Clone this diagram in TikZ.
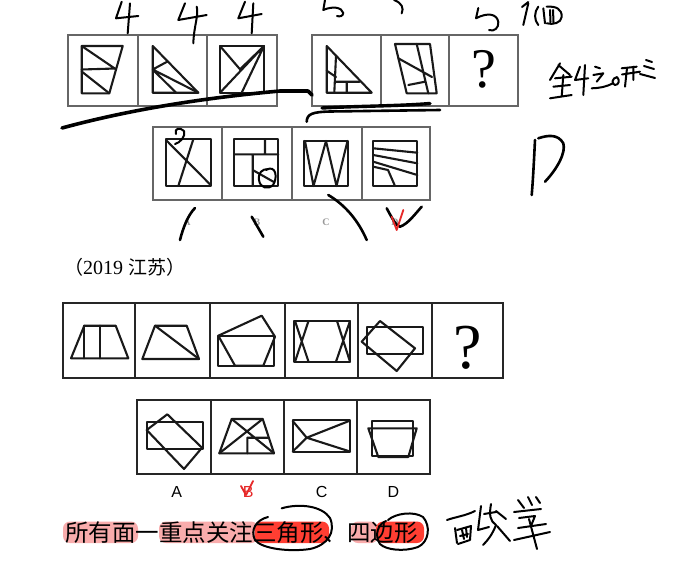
\documentclass[tikz,border=0pt]{standalone}
\usepackage{fontspec}
\newfontfamily\cjk{Noto Sans CJK SC}
\newfontfamily\arialf{Liberation Sans}
\newfontfamily\timesf{Liberation Serif}
\definecolor{pinkhl}{RGB}{249,172,172}
\definecolor{redhl}{RGB}{255,62,50}
\definecolor{checkred}{RGB}{230,40,40}
\begin{document}
\begin{tikzpicture}[x=1pt,y=-1pt,
  fig/.style={line width=2.1pt, line join=round, line cap=round, draw=black!90},
  frame/.style={line width=1.8pt, draw=black!60},
  frameb/.style={line width=2.2pt, draw=black!85},
  hw/.style={line width=2.6pt, line cap=round, line join=round, draw=black},
  hwt/.style={line width=2pt, line cap=round, line join=round, draw=black},
  hwr/.style={line width=1.8pt, line cap=round, line join=round, draw=checkred},
]
\useasboundingbox (0,0) rectangle (692,562);
\fill[white] (0,0) rectangle (692,562);

% ---------------- Question 1 : frames ----------------
\draw[frame] (68,35) rectangle (277,106);
\draw[frame] (138,35) -- (138,106) (207,35) -- (207,106);
\draw[frame] (312,35) rectangle (518,106);
\draw[frame] (381,35) -- (381,106) (449,35) -- (449,106);
% cell 1
\draw[fig] (81.7,46) -- (122.7,46) -- (109.3,93.3) -- (81.7,93.3) -- cycle;
\draw[fig] (81.7,46) -- (115.5,69) (81.7,69.5) -- (115.5,68.5) (81.7,71.5) -- (109.3,93.3);
% cell 2
\draw[fig] (152.7,46) -- (198.3,92.7) -- (152.7,92.7) -- cycle;
\draw[fig] (152.7,69.5) -- (167.5,61.5) (152.7,69.5) -- (198.3,92.7) (152.7,69.5) -- (176,92.7);
% cell 3
\draw[fig] (220,46) rectangle (264,92.7);
\draw[fig] (220,46) -- (240,69.3) -- (264,46) (220,92.7) -- (264,46) (241.7,92.7) -- (264,46);
% cell 4
\draw[fig] (326.7,46) -- (371.7,92.7) -- (326.7,92.7) -- cycle;
\draw[fig] (336,55.7) -- (334.3,92.7) (326.7,70.7) -- (336,77) (336,81.7) -- (359.5,81.7) (346.7,81.7) -- (346.7,92.7);
% cell 5
\draw[fig] (395,44) -- (430,44) -- (436.7,93.3) -- (406.7,93.3) -- cycle;
\draw[fig] (416.7,44) -- (428.3,93.3) (398.3,58.3) -- (432,77) (408.3,85) -- (425,81.7);
% cell 6
\node[font=\timesf\fontsize{56}{56}\selectfont] (q1) at (483.5,69) {?};

% ---------------- Question 1 : options ----------------
\draw[frame] (152.7,126.7) rectangle (430,200);
\draw[frame] (221.7,126.7) -- (221.7,200) (291.7,126.7) -- (291.7,200) (361.7,126.7) -- (361.7,200);
% A
\draw[fig] (166,139.3) rectangle (210.7,186);
\draw[fig] (166.5,140.5) -- (210.7,185) (193.3,139.3) -- (178.3,186);
% B
\draw[fig] (234.3,139.3) rectangle (278.3,186);
\draw[fig] (234.3,154.3) -- (278.3,154.3) (265,139.3) -- (265,154.3) (252.7,154.3) -- (252.7,186) (252.7,170) -- (273.3,181.7);
% C
\draw[fig] (304,140.7) rectangle (348.3,186);
\draw[fig] (305,141) -- (313.5,186) -- (326,141) -- (336.5,186) -- (347.5,141);
% D
\draw[fig] (373.3,140.7) rectangle (417.3,186);
\draw[fig] (373.3,148.3) -- (417.3,152.7) (373.3,155) -- (417.3,163.3) (373.3,161.7) -- (417.3,175) (373.3,166.7) -- (388,170) -- (395,186);
% labels
\foreach \l/\x in {A/187,B/257,C/326,D/395}
  \node[font=\timesf\bfseries\fontsize{10}{10}\selectfont, text=black!40] (o1\l) at (\x,222) {\l};

% ---------------- Question 1 : handwriting ----------------
% numbers above
\draw[hwt] (121.7,1.7) -- (116,18.3) -- (138.3,16) (130,3.3) -- (127.7,33.3);
\draw[hwt] (185,3.3) -- (178.3,20) -- (206.7,15) (196.7,6.7) .. controls (199,15) and (194,25) .. (193.3,43.3);
\draw[hwt] (245,1.7) -- (238.3,18.3) -- (261.7,14) (253.3,3.3) -- (251.7,33.3);
\draw[hwt] (325,0) -- (323.3,10) .. controls (332,6) and (342,7) .. (343.3,13) .. controls (343,16) and (340,17) .. (337,16);
\draw[hwt] (394,0) .. controls (402,3) and (404,8) .. (401.7,13.3);
% "5 个 面"
\draw[hwt] (478.3,8) -- (476,18.3) .. controls (488,12) and (497,14) .. (498.3,22) .. controls (499,28) and (494,32) .. (489,30);
\draw[hwt] (522,7) -- (528.3,2) (528.3,3.3) -- (523.3,25);
\draw[hwt] (538.3,6.7) .. controls (534,12) and (534,20) .. (538.3,25);
\draw[hwt] (543.3,8.3) -- (545,23.3) (546.7,6.7) .. controls (556,6) and (562,9) .. (561.7,17) .. controls (561,23) and (553,25) .. (546.7,23.3) (550,10) -- (550.5,22) (553,10) -- (553.5,22);
% "全4边形"
\draw[hwt] (560,63.3) -- (550,80) (558.3,65) -- (570,75) (555,78.3) -- (571.7,76.7) (563.3,75) -- (561.7,96.7) (553.3,86.7) -- (570,85) (550,98.3) -- (571.7,95);
\draw[hwt] (580,66.7) -- (575,80) -- (588.3,78.3) (585,65) -- (583.3,95);
\draw[hwt] (595,66.7) -- (600,68.3) (593.3,75) -- (603.3,73.3) -- (596.7,81.7) (591.7,88.3) .. controls (600,88) and (606,87) .. (613.3,83);
\draw[hwt] (617,77) .. controls (612,78) and (611,84) .. (615,85) .. controls (619,85) and (620,80) .. (617,77);
\draw[hwt] (621.7,68.3) -- (636.7,66.7) (622,74.5) -- (640,71.7) (627,68) -- (625,86.7) (633.3,66.7) -- (633.3,80);
\draw[hwt] (646,60) -- (652,62) (644,66) -- (654,69) (640,74) -- (655,78);
% handwritten D
\draw[hw] (535,140) .. controls (534,160) and (533,180) .. (531.7,195);
\draw[hw] (538.3,138.3) .. controls (548,135) and (558,134) .. (563.3,143.3) .. controls (566,152) and (558,168) .. (545,181.7);
% long curve under first group
\draw[line width=3.6pt, line cap=round, line join=round] (62,128) .. controls (110,115) and (180,100) .. (280,91) -- (308,91) -- (312,95);
\draw[line width=3.4pt, line cap=round] (322,108) .. controls (360,106) and (400,106) .. (430,103.5);
\draw[hw] (306.7,121.7) .. controls (307,114) and (312,112) .. (330,111.5) -- (440,110);
% loops on options
\draw[hwt] (176,134) .. controls (174,128) and (180,127) .. (184,131) .. controls (186,136) and (180,143) .. (175,144);
\draw[hwt] (266,170) .. controls (276,164) and (278,178) .. (273,185) .. controls (268,190) and (260,188) .. (259,180) .. controls (258,173) and (262,169) .. (268,169);
% strokes under options
\draw[hw] (195,208) .. controls (188,215) and (183,228) .. (180,240);
\draw[hw] (251.7,216.7) -- (263.3,236.7);
\draw[hw] (328.3,195) .. controls (345,205) and (358,220) .. (366.7,240);
\draw[hw] (386.7,208.3) .. controls (392,218) and (396,226) .. (400,226.7) .. controls (408,224) and (415,214) .. (421.7,206.7);
\draw[hwr] (391.7,216.7) -- (396.7,230) -- (403.3,210);

% ---------------- Question 2 ----------------
\node[anchor=west, inner sep=0pt] (src) at (64,267) {\cjk\fontsize{19}{19}\selectfont （\timesf\fontsize{20}{20}\selectfont 2019 \cjk\fontsize{19}{19}\selectfont 江苏）};

\draw[frameb] (63.3,303.3) rectangle (503.3,377.7);
\foreach \x in {135,210,285,358.3,431.7} \draw[frameb] (\x,303.3) -- (\x,377.7);
% cell 1
\draw[fig] (71,358.3) -- (128.3,358.3) -- (115.7,325.7) -- (84.3,325.7) -- cycle;
\draw[fig] (84.3,325.7) -- (84.3,358.3) (100,325.7) -- (100,358.3);
% cell 2
\draw[fig] (142.3,359) -- (199,359) -- (186.7,325.7) -- (155,325.7) -- cycle;
\draw[fig] (155,325.7) -- (199,359);
% cell 3
\draw[fig] (218.3,335.7) rectangle (274.3,365.7);
\draw[fig] (218.3,335.7) -- (261.7,315.7) -- (275,336.7) -- (263.3,365.7) -- (235,365.7) -- cycle;
% cell 4
\draw[fig] (294.3,321) rectangle (350,361.7);
\draw[fig] (295,321) -- (308.5,361.7) (308.5,321) -- (295,361.7) (337,321) -- (350,361.7) (350,321) -- (336,361.7);
% cell 5
\draw[fig] (366.7,327.3) rectangle (423.3,354.3);
\draw[fig] (380,321) -- (415,348.3) -- (396.7,371) -- (361.7,341.7) -- cycle;
% cell 6
\node[font=\timesf\fontsize{64}{64}\selectfont] (q2) at (468,348) {?};

% options
\draw[frameb] (137.3,400) rectangle (430,474.3);
\foreach \x in {211,284,357.3} \draw[frameb] (\x,400) -- (\x,474.3);
% A
\draw[fig] (146.7,422.3) rectangle (203.3,449);
\draw[fig] (167.3,414.3) -- (202,447.7) -- (184,469) -- (146.7,430) -- cycle;
% B
\draw[fig] (219.3,453.3) -- (274,453.3) -- (262.7,419) -- (231.7,419) -- cycle;
\draw[fig] (231.7,419) -- (274,453.3) (262.7,419) -- (219.3,453.3) (247.3,437.7) -- (247.3,453.3) (247.3,437.7) -- (268.5,437.7);
% C
\draw[fig] (292.7,420) rectangle (350,452.3);
\draw[fig] (292.7,421) -- (306.7,437.7) -- (292.7,451.5) (306.7,437.7) -- (349,421) (306.7,437.7) -- (350,451.5);
% D
\draw[fig] (372,421) rectangle (413,456);
\draw[fig] (368.3,428.3) -- (416.7,428.3) -- (408.3,457) -- (378.3,457) -- cycle;
% labels
\foreach \l/\x in {A/176.7,C/321.7,D/393.3}
  \node[font=\arialf\fontsize{16}{16}\selectfont] (o2\l) at (\x,492) {\l};
\node[font=\arialf\fontsize{16}{16}\selectfont, text=checkred] (o2B) at (248.3,492) {B};
\draw[hwr] (241,486) -- (246,495) -- (253,481);

% ---------------- bottom note ----------------
\fill[pinkhl, rounded corners=7pt] (63,521.5) rectangle (138,543);
\fill[pinkhl, rounded corners=7pt] (159,521.5) rectangle (258,543);
\fill[redhl, rounded corners=7pt] (255,521.5) rectangle (329,543);
\fill[pinkhl, rounded corners=7pt] (351,521.5) rectangle (378,543);
\fill[redhl, rounded corners=7pt] (376,521.5) rectangle (424,543);
\node[anchor=west, inner sep=0pt, font=\cjk\fontsize{23.5}{24}\selectfont] (note) at (65,532.5) {所有面一重点关注三角形、四边形};
% circles
\draw[hwt] (281.7,508.3) .. controls (300,503) and (322,506) .. (330,518) .. controls (336,532) and (328,545) .. (310,549) .. controls (290,552) and (262,549) .. (255,540) .. controls (250,530) and (256,520) .. (268,517);
\draw[hwt] (388,520) .. controls (396,513) and (414,511) .. (423,517) .. controls (431,526) and (429,542) .. (418,547) .. controls (404,552) and (386,550) .. (380,544) .. controls (374,535) and (378,524) .. (386,521);
% signature
\draw[hwt] (447,520) .. controls (455,517) and (465,516) .. (475,511);
\draw[hwt] (455,528) -- (457,543);
\draw[hwt] (457,530) -- (471,526) -- (470,540) -- (458,544);
\draw[hwt] (462,530) -- (464,539) (466,528) -- (467,537) (460,536) -- (468,534);
\draw[hwt] (481,506) -- (478,530) -- (489,527);
\draw[hwt] (491,504) .. controls (489,515) and (490,521) .. (496,525) .. controls (492,535) and (488,540) .. (483,545);
\draw[hwt] (496,511) -- (506,519) (497,526) -- (510,541) (484,514) -- (496,512);
\draw[hwt] (518,500) -- (524,508) (528,497) -- (532,505) (536,497) -- (540,503);
\draw[hwt] (514,512) -- (541,509) (519,518) -- (535,516) -- (531,526);
\draw[hwt] (518,528) -- (546,524) (529,519) -- (537,549) (514,540) -- (550,532);
\end{tikzpicture}
\end{document}
